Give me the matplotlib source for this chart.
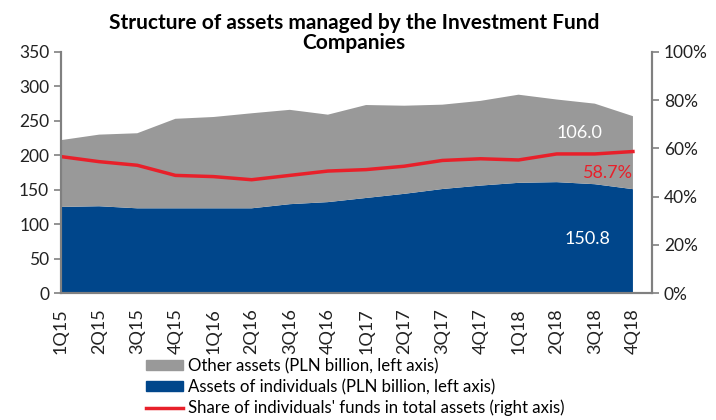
import matplotlib
matplotlib.use('Agg')
import matplotlib.pyplot as plt
from matplotlib.ticker import FuncFormatter
from matplotlib.patches import Patch
from matplotlib.lines import Line2D

# Data
quarters = ['1Q15', '2Q15', '3Q15', '4Q15', '1Q16', '2Q16', '3Q16', '4Q16',
            '1Q17', '2Q17', '3Q17', '4Q17', '1Q18', '2Q18', '3Q18', '4Q18']
individuals = [125, 126, 123, 123, 123, 123, 129, 132,
               138, 144, 151, 156, 160, 161, 158, 150.8]
other = [97, 104, 109, 130, 132.6, 138, 137, 127,
         135, 128, 122.5, 123, 128, 120, 117, 106.0]
share = [56.6, 54.5, 53.0, 48.8, 48.3, 47.0, 48.8, 50.6,
         51.2, 52.6, 55.0, 55.7, 55.2, 57.7, 57.7, 58.7]

blue = '#00468B'
grey = '#999999'
red = '#E8202A'
axis_col = '#808080'

plt.rcParams['font.family'] = ['Lato', 'DejaVu Sans']

fig = plt.figure(figsize=(7.16, 4.2), dpi=100)
ax = fig.add_axes([61 / 716, 1 - 293 / 420, (652 - 61) / 716, (293 - 52) / 420])
ax2 = ax.twinx()

x = list(range(len(quarters)))
ax.stackplot(x, individuals, other, colors=[blue, grey], linewidth=0)

ax2.plot(x, share, color=red, lw=2.5)

ax.set_xlim(0, 15.5)
ax.set_ylim(0, 350)
ax.set_yticks(range(0, 351, 50))
ax2.set_ylim(0, 100)
ax2.set_yticks(range(0, 101, 20))
ax2.yaxis.set_major_formatter(FuncFormatter(lambda v, p: f'{v:.0f}%'))

ax.set_xticks(x)
ax.set_xticklabels(quarters, rotation=90)

for a in (ax, ax2):
    a.spines['top'].set_visible(False)
    for s in ('left', 'right', 'bottom'):
        a.spines[s].set_color(axis_col)
        a.spines[s].set_linewidth(1.5)
    a.tick_params(colors=axis_col, labelcolor='#222222', labelsize=12.5, length=5, width=1.2)
ax.tick_params(axis='x', length=0, pad=11, labelsize=13)

# value labels
ax.text(13.6, 233, f'{other[-1]:.1f}', color='white', fontsize=13, ha='center', va='center')
ax.text(13.8, 78, f'{individuals[-1]:.1f}', color='white', fontsize=13, ha='center', va='center')
ax2.text(14.35, 49.6, f'{share[-1]:.1f}%', color=red, fontsize=13, ha='center', va='center')

fig.text(0.494, 0.968, 'Structure of assets managed by the Investment Fund\nCompanies',
         ha='center', va='top', fontsize=15, fontweight='bold', linespacing=1.0)

handles = [Patch(color=grey), Patch(color=blue), Line2D([0], [0], color=red, lw=2.5)]
labels = ['Other assets (PLN billion, left axis)',
          'Assets of individuals (PLN billion, left axis)',
          "Share of individuals' funds in total assets (right axis)"]
fig.legend(handles, labels, loc='upper left', bbox_to_anchor=(146 / 716, 1 - 358 / 420),
           frameon=False, fontsize=12.1, handlelength=2.2, handleheight=0.5,
           labelspacing=0.28, handletextpad=0.3, borderaxespad=0, borderpad=0)

fig.savefig('out.png', dpi=100)
